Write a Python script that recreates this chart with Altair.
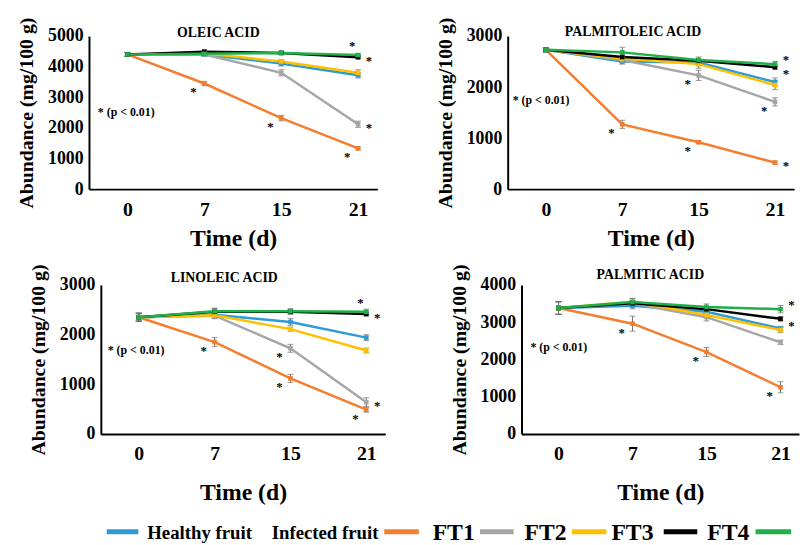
import altair as alt
import pandas as pd

FONT = "Liberation Serif"

DAYS = ["0", "7", "15", "21"]
SERIES = ["Healthy fruit", "Infected fruit", "FT1", "FT2", "FT3", "FT4"]
COLORS = ["#2e9bd6", "#f47d30", "#a6a6a6", "#ffc000", "#000000", "#1fb04c"]

# values per series (order of SERIES), days 0, 7, 15, 21
OLEIC_VALUES = [
    [4400, 4400, 4100, 3720],
    [4400, 3450, 2320, 1330],
    [4400, 4400, 3800, 2120],
    [4400, 4430, 4170, 3800],
    [4400, 4490, 4450, 4310],
    [4400, 4420, 4450, 4380],
]
OLEIC_ERRORS = [
    [60, 60, 80, 90],
    [60, 70, 90, 50],
    [60, 60, 100, 100],
    [60, 50, 60, 100],
    [60, 50, 50, 50],
    [60, 50, 60, 50],
]
OLEIC_STARS = [("Infected fruit", 1, "L"), ("Infected fruit", 2, "L"), ("Infected fruit", 3, "L"),
               ("FT1", 3, "R"), ("FT4", 3, "U"), ("FT3", 3, "R")]

PALMITOLEIC_VALUES = [
    [2730, 2500, 2480, 2100],
    [2730, 1270, 920, 520],
    [2730, 2530, 2230, 1710],
    [2730, 2560, 2450, 2040],
    [2730, 2590, 2515, 2390],
    [2730, 2680, 2530, 2450],
]
PALMITOLEIC_ERRORS = [
    [40, 50, 60, 80],
    [40, 80, 30, 30],
    [40, 50, 100, 80],
    [40, 60, 80, 90],
    [40, 60, 50, 40],
    [40, 100, 60, 50],
]
PALMITOLEIC_STARS = [("Infected fruit", 1, "L"), ("FT1", 2, "L"), ("Infected fruit", 2, "L"),
                     ("FT1", 3, "L"), ("Infected fruit", 3, "R"), ("FT4", 3, "RU"), ("FT3", 3, "RD")]

LINOLEIC_VALUES = [
    [2350, 2400, 2255, 1940],
    [2350, 1850, 1120, 490],
    [2350, 2380, 1725, 640],
    [2350, 2390, 2110, 1680],
    [2350, 2460, 2460, 2415],
    [2350, 2470, 2470, 2460],
]
LINOLEIC_ERRORS = [
    [80, 60, 70, 60],
    [80, 90, 80, 50],
    [80, 60, 80, 90],
    [80, 50, 40, 50],
    [80, 70, 50, 40],
    [80, 60, 50, 50],
]
LINOLEIC_STARS = [("Infected fruit", 1, "L"), ("FT1", 2, "L"), ("Infected fruit", 2, "L"),
                  ("FT1", 3, "R"), ("Infected fruit", 3, "L"), ("FT4", 3, "U"), ("FT3", 3, "R")]

PALMITIC_VALUES = [
    [3380, 3440, 3280, 2830],
    [3380, 2960, 2200, 1255],
    [3380, 3500, 3135, 2460],
    [3380, 3550, 3195, 2790],
    [3380, 3505, 3350, 3090],
    [3380, 3540, 3410, 3350],
]
PALMITIC_ERRORS = [
    [170, 80, 80, 60],
    [170, 200, 120, 150],
    [170, 80, 100, 60],
    [170, 80, 80, 70],
    [170, 70, 70, 60],
    [170, 100, 80, 100],
]
PALMITIC_STARS = [("Infected fruit", 1, "L"), ("Infected fruit", 2, "L"), ("Infected fruit", 3, "L"),
                  ("FT4", 3, "RU"), ("FT3", 3, "RD")]

# legend (drawn as in the figure)
LEG_LABELS = ["Healthy fruit", "Infected fruit", "FT1", "FT2", "FT3", "FT4"]
LEG_LABEL_X = [135, 261, 424, 517, 605, 702]
LEG_LABEL_SIZE = [19, 19, 24, 24, 24, 24]
LEG_SWATCH_X1 = [94, 375, 472, 565, 658, 751]
LEG_SWATCH_X2 = [126, 410, 506, 600, 692, 787]

STAR_OFFSETS = {"L": (-11, 9), "R": (11, 4), "U": (-6, -9), "RU": (11, -4), "RD": (11, 7)}

LABEL_EXPR = "[" + ",".join("'%s'" % d for d in DAYS) + "][datum.value]"


def panel(title, values, errors, stars, ymax, width, height, title_dx, title_y,
          note_x, note_y, x_label_pad, x_title_pad):
    rows = []
    for s, vals, errs in zip(SERIES, values, errors):
        for i, (v, e) in enumerate(zip(vals, errs)):
            rows.append({"series": s, "idx": i, "value": v, "lo": v - e, "hi": v + e})
    df = pd.DataFrame(rows)

    xs = alt.Scale(domain=[-0.5, 3.25], nice=False, zero=False)
    ys = alt.Scale(domain=[0, ymax], nice=False)
    x_axis = alt.Axis(values=[0, 1, 2, 3], labelExpr=LABEL_EXPR, title="Time (d)",
                      labelFontSize=20, titleFontSize=24, labelPadding=x_label_pad,
                      titlePadding=x_title_pad, labelAngle=0)
    y_axis = alt.Axis(values=list(range(0, ymax + 1, 1000)), format="d", title="Abundance (mg/100 g)",
                      labelFontSize=18, titleFontSize=20, labelPadding=6, titlePadding=11)
    x = alt.X("idx:Q", scale=xs, axis=x_axis)
    y = alt.Y("value:Q", scale=ys, axis=y_axis)
    color = alt.Color("series:N", scale=alt.Scale(domain=SERIES, range=COLORS), legend=None)

    base = alt.Chart(df)
    layers = []
    for s in SERIES:
        layers.append(base.transform_filter(alt.datum.series == s)
                      .mark_line(strokeWidth=2.5).encode(x=x, y=y, color=color))
    layers.append(base.mark_rule(color="#707070", strokeWidth=1).encode(
        x=x, y=alt.Y("lo:Q", scale=ys, axis=y_axis), y2="hi:Q"))
    layers.append(base.mark_tick(color="#707070", thickness=1, size=6, orient="horizontal").encode(
        x=x, y=alt.Y("lo:Q", scale=ys, axis=y_axis)))
    layers.append(base.mark_tick(color="#707070", thickness=1, size=6, orient="horizontal").encode(
        x=x, y=alt.Y("hi:Q", scale=ys, axis=y_axis)))
    layers.append(base.mark_square(size=22, opacity=1).encode(x=x, y=y, color=color))

    star_rows = []
    for s, i, side in stars:
        v = values[SERIES.index(s)][i]
        star_rows.append({"series": s, "idx": i, "value": v, "side": side})
    sdf = pd.DataFrame(star_rows)
    for side, (dx, dy) in STAR_OFFSETS.items():
        sub = sdf[sdf["side"] == side]
        if len(sub) == 0:
            continue
        layers.append(alt.Chart(sub).mark_text(text="*", font=FONT, fontWeight="bold", fontSize=13,
                                               color="black", dx=dx, dy=dy, baseline="middle")
                      .encode(x=x, y=y))

    layers.append(alt.Chart(pd.DataFrame({"t": [title]})).mark_text(
        font=FONT, fontWeight="bold", fontSize=14, baseline="alphabetic", align="center", color="black")
        .encode(x=alt.value(width / 2 + title_dx), y=alt.value(title_y), text="t:N"))
    layers.append(alt.Chart(pd.DataFrame({"t": ["* (p < 0.01)"]})).mark_text(
        font=FONT, fontWeight="bold", fontSize=12, baseline="middle", align="left", color="black")
        .encode(x=alt.value(note_x), y=alt.value(note_y), text="t:N"))

    return alt.layer(*layers).properties(width=width, height=height)


def spacer(w):
    # invisible, empty block that only takes horizontal room
    return alt.Chart(pd.DataFrame({"a": [0]})).mark_rule(opacity=0).encode(
        x=alt.value(0), x2=alt.value(w), y=alt.value(0)).properties(width=w, height=10)


p1 = panel("OLEIC ACID", OLEIC_VALUES, OLEIC_ERRORS, OLEIC_STARS, 5000, 292, 155,
           -15, 1, 9, 77, 11, 7)
p2 = panel("PALMITOLEIC  ACID", PALMITOLEIC_VALUES, PALMITOLEIC_ERRORS, PALMITOLEIC_STARS, 3000,
           290, 155, -18, 0, 5, 65, 11, 7)
p3 = panel("LINOLEIC  ACID", LINOLEIC_VALUES, LINOLEIC_ERRORS, LINOLEIC_STARS, 3000, 288, 151,
           -19, -3, 7, 66, 10, 17)
p4 = panel("PALMITIC  ACID", PALMITIC_VALUES, PALMITIC_ERRORS, PALMITIC_STARS, 4000, 281, 151,
           -10, -6, 9, 63, 10, 17)

leg_text = pd.DataFrame({"label": LEG_LABELS, "x": LEG_LABEL_X, "fs": LEG_LABEL_SIZE})
leg_sw = pd.DataFrame({"series": SERIES, "x1": LEG_SWATCH_X1, "x2": LEG_SWATCH_X2})
legend = alt.layer(
    alt.Chart(leg_sw).mark_rule(strokeWidth=5).encode(
        x=alt.X("x1:Q", scale=None), x2="x2:Q", y=alt.value(14),
        color=alt.Color("series:N", scale=alt.Scale(domain=SERIES, range=COLORS), legend=None)),
    alt.Chart(leg_text).mark_text(font=FONT, fontWeight="bold", align="left", baseline="middle",
                                  color="black").encode(
        x=alt.X("x:Q", scale=None), y=alt.value(15), text="label:N",
        size=alt.Size("fs:Q", scale=None)),
).properties(width=775, height=26)

top = alt.hconcat(spacer(1), alt.hconcat(p1, p2, spacing=57), spacing=0)
bottom = alt.hconcat(spacer(13), alt.hconcat(p3, p4, spacing=63), spacing=0)

chart = alt.vconcat(top, bottom, legend, spacing=12).properties(
    padding={"left": 5, "top": 5, "right": 0, "bottom": 0},
    background="white",
).configure_view(stroke="transparent").configure_axis(
    labelFont=FONT, titleFont=FONT, labelFontWeight="bold", titleFontWeight="bold",
    labelColor="black", titleColor="black", domainColor="black", domainWidth=2,
    ticks=False, tickSize=0, grid=False
)

chart.save("out.html", embed_options={"renderer": "svg", "actions": False})
